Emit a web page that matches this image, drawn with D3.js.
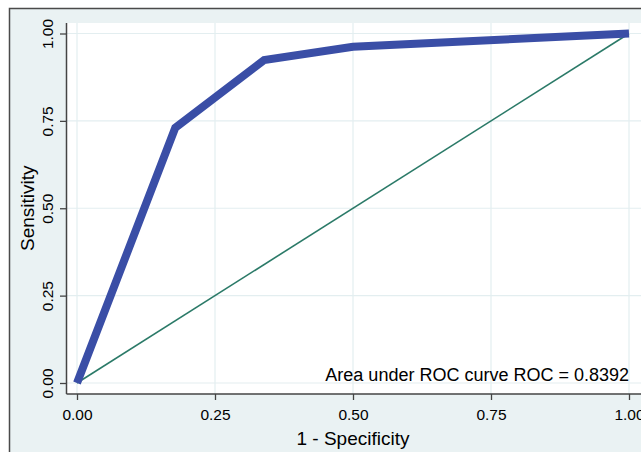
<!DOCTYPE html>
<html>
<head>
<meta charset="utf-8">
<script src="https://cdn.jsdelivr.net/npm/d3@7"></script>
<style>
html,body{margin:0;padding:0;background:#fff;}
svg{display:block;}
text{font-family:"Liberation Sans",Arial,sans-serif;fill:#000;}
</style>
</head>
<body>
<svg id="chart" width="641" height="452"></svg>
<script>
// ---- data ----
const specComplement = [0, 0.178, 0.339, 0.50, 1.0];   // 1 - Specificity
const sensitivity    = [0, 0.730, 0.924, 0.962, 1.0];
const tickValues = [0, 0.25, 0.5, 0.75, 1];
const tickLabels = ["0.00", "0.25", "0.50", "0.75", "1.00"];
const refLine = [0, 1];
const aucText = "Area under ROC curve ROC = 0.8392";
const xTitle = "1 - Specificity";
const yTitle = "Sensitivity";

// ---- layout ----
const W = 641, H = 452;
const svg = d3.select("#chart");
const x = d3.scaleLinear().domain([0, 1]).range([77, 629]);
const y = d3.scaleLinear().domain([0, 1]).range([383, 33.5]);
const plotLeft = 66.5, plotTop = 23, plotBottom = 394;

// outer frame background
svg.append("rect").attr("x", 9.5).attr("y", 8.5).attr("width", W).attr("height", H)
  .attr("fill", "#eaf2f3").attr("stroke", "#4a4a4a").attr("stroke-width", 1.5);

// plot region
svg.append("rect").attr("x", plotLeft).attr("y", plotTop)
  .attr("width", W - plotLeft + 5).attr("height", plotBottom - plotTop).attr("fill", "#fff");

// grid
const grid = svg.append("g");
grid.selectAll("line.gx").data(tickValues).join("line")
  .attr("x1", d => x(d)).attr("x2", d => x(d)).attr("y1", plotTop).attr("y2", plotBottom)
  .attr("stroke", "#e3eef0").attr("stroke-width", 1.2);
grid.selectAll("line.gy").data(tickValues).join("line")
  .attr("y1", d => y(d)).attr("y2", d => y(d)).attr("x1", plotLeft).attr("x2", W)
  .attr("stroke", "#e3eef0").attr("stroke-width", 1.2);

// reference diagonal
svg.append("line")
  .attr("x1", x(refLine[0])).attr("y1", y(refLine[0]))
  .attr("x2", x(refLine[1])).attr("y2", y(refLine[1]))
  .attr("stroke", "#2b7a68").attr("stroke-width", 1.6);

// ROC curve
const pts = specComplement.map((v, i) => [v, sensitivity[i]]);
svg.append("path").datum(pts)
  .attr("d", d3.line().x(d => x(d[0])).y(d => y(d[1])))
  .attr("fill", "none").attr("stroke", "#3a4ea6").attr("stroke-width", 8)
  .attr("stroke-linejoin", "miter").attr("stroke-linecap", "butt");

// axes
const fmt = (d) => tickLabels[tickValues.indexOf(d)];
const xAxis = svg.append("g").attr("transform", `translate(0,${plotBottom})`)
  .call(d3.axisBottom(x).tickValues(tickValues).tickFormat(fmt).tickSize(6).tickSizeOuter(0).tickPadding(8));
xAxis.select(".domain").attr("d", `M${plotLeft},0H${W}`).attr("stroke", "#444").attr("stroke-width", 1.5);
xAxis.selectAll(".tick line").attr("stroke", "#444").attr("stroke-width", 1.3);
xAxis.selectAll(".tick text").attr("font-size", 15.5).attr("font-family", "Liberation Sans, Arial, sans-serif")
  .attr("fill", "#000").attr("y", 25.5).attr("dy", 0);

const yAxis = svg.append("g").attr("transform", `translate(${plotLeft},0)`)
  .call(d3.axisLeft(y).tickValues(tickValues).tickFormat(fmt).tickSize(6.5).tickSizeOuter(0));
yAxis.select(".domain").attr("d", `M0,${plotTop}V${plotBottom}`).attr("stroke", "#444").attr("stroke-width", 1.5);
yAxis.selectAll(".tick line").attr("stroke", "#444").attr("stroke-width", 1.3);
yAxis.selectAll(".tick text")
  .attr("font-size", 15.5).attr("font-family", "Liberation Sans, Arial, sans-serif").attr("fill", "#000")
  .attr("x", null).attr("dy", null)
  .attr("text-anchor", "middle")
  .attr("transform", "translate(-13.8,0) rotate(-90)");

// axis titles
svg.append("text").attr("x", x(0.5)).attr("y", 445).attr("text-anchor", "middle")
  .attr("font-size", 19).text(xTitle);
svg.append("text").attr("transform", `translate(34,${y(0.5)}) rotate(-90)`).attr("text-anchor", "middle")
  .attr("font-size", 19).text(yTitle);

// AUC annotation
svg.append("text").attr("x", x(1)).attr("y", 381).attr("text-anchor", "end")
  .attr("font-size", 18).text(aucText);
</script>
</body>
</html>
